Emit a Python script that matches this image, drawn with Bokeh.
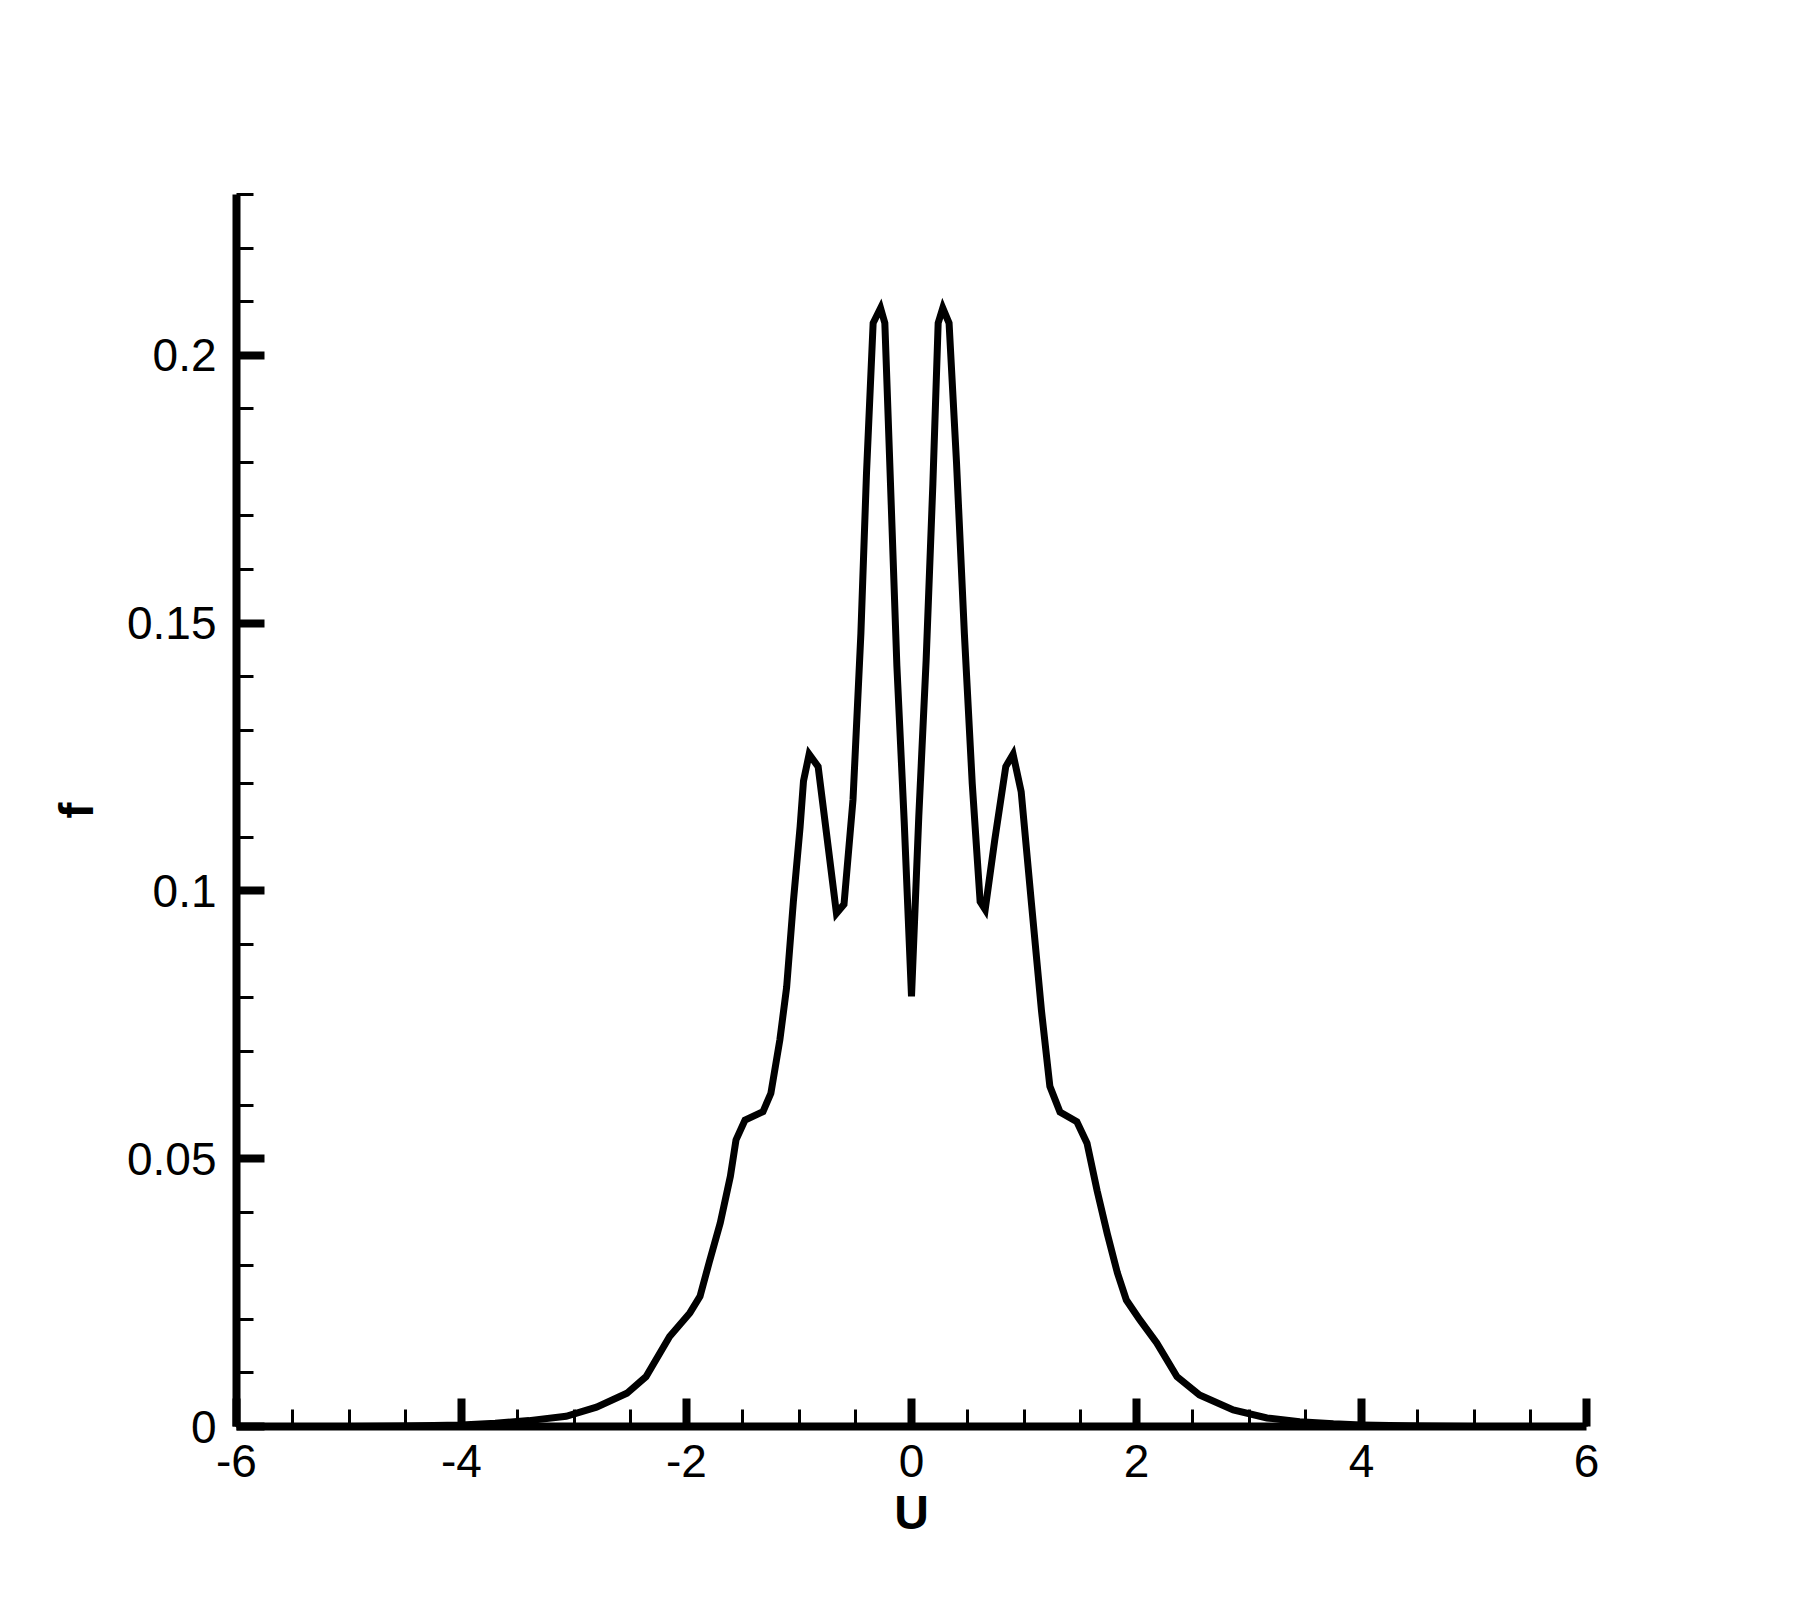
from bokeh.plotting import figure
from bokeh.models import Range1d, FixedTicker
from bokeh.embed import file_html
from bokeh.resources import INLINE

# ---- data ----
u_values = [-6.0, -5.0, -4.5, -4.0, -3.7, -3.4, -3.07, -2.8, -2.53, -2.36,
            -2.15, -1.97, -1.88, -1.80, -1.70, -1.61, -1.56, -1.48, -1.32, -1.25,
            -1.17, -1.11, -1.05, -0.99, -0.96, -0.91, -0.83, -0.756, -0.667, -0.60,
            -0.52, -0.45, -0.40, -0.341, -0.275, -0.237, -0.18, -0.13, -0.065, 0.0,
            0.065, 0.13, 0.19, 0.237, 0.278, 0.334, 0.40, 0.47, 0.54, 0.61,
            0.655, 0.74, 0.838, 0.903, 0.975, 1.067, 1.156, 1.23, 1.32, 1.47,
            1.56, 1.65, 1.74, 1.83, 1.91, 2.03, 2.18, 2.36, 2.56, 2.86,
            3.16, 3.45, 3.75, 4.0, 4.5, 5.0, 6.0]
f_values = [0.0, 0.0, 0.0001, 0.0003, 0.0006, 0.0011, 0.0019, 0.0036, 0.0062, 0.0093,
            0.0168, 0.0212, 0.0243, 0.0305, 0.038, 0.0467, 0.0535, 0.0572, 0.0588, 0.0622,
            0.0722, 0.082, 0.098, 0.112, 0.1205, 0.1255, 0.1232, 0.1108, 0.0958, 0.0975,
            0.117, 0.148, 0.178, 0.206, 0.2088, 0.206, 0.172, 0.142, 0.113, 0.0803,
            0.114, 0.143, 0.176, 0.206, 0.2088, 0.206, 0.180, 0.148, 0.120, 0.098,
            0.0965, 0.1095, 0.1232, 0.1255, 0.1185, 0.0975, 0.0775, 0.0635, 0.0587, 0.0569,
            0.0529, 0.044, 0.036, 0.0287, 0.0236, 0.0199, 0.0156, 0.0093, 0.0059, 0.0031,
            0.0016, 0.0009, 0.0005, 0.0003, 0.0001, 0.0, 0.0]

x_ticks = [-6, -4, -2, 0, 2, 4, 6]
x_tick_labels = ["-6", "-4", "-2", "0", "2", "4", "6"]
y_ticks = [0, 0.05, 0.1, 0.15, 0.2]
y_tick_labels = ["0", "0.05", "0.1", "0.15", "0.2"]
x_label = "U"
y_label = "f"

x_minor = [-6 + 0.5 * i for i in range(25)]
y_minor = [round(0.01 * i, 2) for i in range(24)]

FONT = "Liberation Sans"

p = figure(width=1790, height=1590,
           x_range=Range1d(-6, 6), y_range=Range1d(0, 0.23),
           output_backend="svg", toolbar_location=None,
           min_border_left=236, min_border_right=204,
           min_border_top=194, min_border_bottom=164,
           background_fill_color="white", border_fill_color="white")
p.outline_line_color = None
p.grid.visible = False

p.xaxis.ticker = FixedTicker(ticks=x_ticks, minor_ticks=x_minor)
p.yaxis.ticker = FixedTicker(ticks=y_ticks, minor_ticks=y_minor)
p.xaxis.major_label_overrides = {t: s for t, s in zip(x_ticks, x_tick_labels)}
p.yaxis.major_label_overrides = {t: s for t, s in zip(y_ticks, y_tick_labels)}

for ax in (p.xaxis, p.yaxis):
    ax.axis_line_width = 8
    ax.axis_line_color = "black"
    ax.major_tick_in = 28
    ax.major_tick_out = 0
    ax.major_tick_line_width = 8
    ax.major_tick_line_color = "black"
    ax.minor_tick_in = 17
    ax.minor_tick_out = 0
    ax.minor_tick_line_width = 3
    ax.minor_tick_line_color = "black"
    ax.major_label_text_font = FONT
    ax.major_label_text_font_size = "46px"
    ax.major_label_text_color = "black"
    ax.axis_label_text_font = FONT
    ax.axis_label_text_font_size = "48px"
    ax.axis_label_text_font_style = "bold"
    ax.axis_label_text_color = "black"

p.xaxis.major_label_standoff = 18
p.yaxis.major_label_standoff = 20
p.xaxis.axis_label = x_label
p.yaxis.axis_label = y_label
p.xaxis.axis_label_standoff = 6
p.yaxis.axis_label_standoff = 21

p.line(u_values, f_values, line_width=7, line_color="black", line_join="miter")

open("out.html", "w").write(file_html(p, INLINE))
